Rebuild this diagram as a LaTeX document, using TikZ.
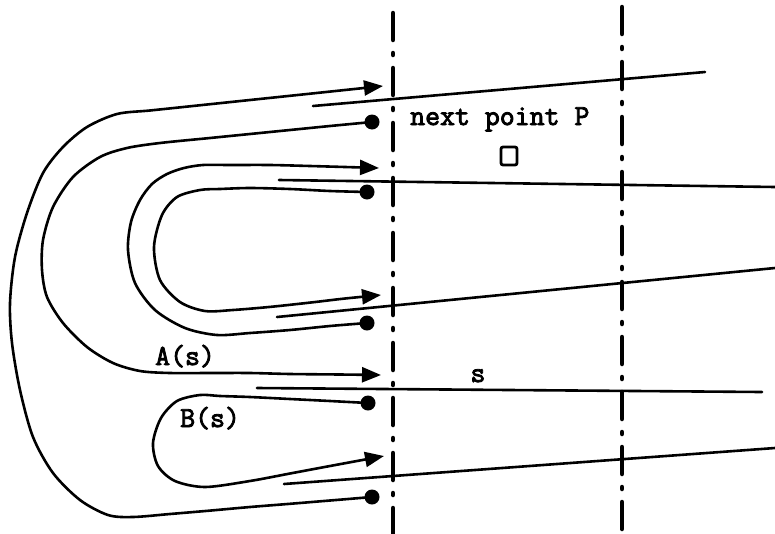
\documentclass[tikz,border=0pt]{standalone}
\usepackage{fontspec}
\newfontfamily\twfont[FakeBold=3]{Latin Modern Mono}
\usetikzlibrary{arrows.meta}
\begin{document}
\begin{tikzpicture}[x=1pt,y=-1pt,
  curve/.style={line width=2.6pt, line join=round, line cap=round},
  tip/.style={-{Triangle[length=19pt,width=15pt]}},
  ray/.style={line width=2.6pt, line cap=round},
  axis/.style={line width=4.5pt, line cap=round, dash pattern=on 27pt off 13pt on 2pt off 13pt},
  lab/.style={font=\fontsize{29}{29}\selectfont\twfont, inner sep=0pt},
  dotmark/.style={fill, circle, minimum size=15pt, inner sep=0pt}]
\useasboundingbox (0,0) rectangle (775,533);

% dash-dot section lines
\coordinate (v1t) at (393,13);  \coordinate (v1b) at (393,545);
\coordinate (v2t) at (622,7);   \coordinate (v2b) at (622,545);
\draw[axis] (v1t) -- (v1b);
\draw[axis] (v2t) -- (v2b);

% end dots
\node[dotmark] (d1) at (372,497) {};
\node[dotmark] (d2) at (372,122) {};
\node[dotmark] (d3) at (367,323) {};
\node[dotmark] (d4) at (367,192) {};
\node[dotmark] (d5) at (368,403) {};

% arrow tips
\coordinate (a1) at (383,86);
\coordinate (a2) at (381,375);
\coordinate (a3) at (379,168);
\coordinate (a4) at (381,295);
\coordinate (a5) at (384,456);

% outer curve
\draw[curve,tip] plot[smooth,tension=0.5] coordinates {(d1.center) (330,500.5) (290,503.8) (250,507) (210,510.6) (170,514) (133,517) (108,515) (80,500) (53,473) (33,437) (20,390) (12,343) (10,303) (15,257) (27,213) (43,173) (63,147) (87,127) (117,114) (150,110.5) (190,106.3) (230,102.1) (270,97.9) (310,93.7) (345,90)  (a1)};
% second curve, A(s)
\draw[curve,tip] plot[smooth,tension=0.5] coordinates {(d2.center) (330,126) (290,130) (250,134) (210,138) (160,143) (127,148) (100,157) (73,177) (53,207) (43,240) (42,270) (47,297) (63,323) (87,347) (113,363) (140,371) (170,373) (210,373) (250,373) (290,374) (340,374.5) (a2)};
% third curve
\draw[curve,tip] plot[smooth,tension=0.5] coordinates {(d3.center) (330,326) (290,330) (250,333) (217,335) (185,328) (155,310) (135,283) (128,250) (131,222) (140,200) (152,184) (167,174) (184,168) (203,165) (230,165) (270,165) (310,166) (345,167) (a3)};
% inner curve
\draw[curve,tip] plot[smooth,tension=0.5] coordinates {(d4.center) (330,191) (290,189) (250,188) (220,189) (200,190) (177,197) (162,215) (154,247) (160,280) (180,302) (205,311) (233,310) (270,306.9) (310,302.6) (345,298.5) (a4)};
% B(s) curve
\draw[curve,tip] plot[smooth,tension=0.5] coordinates {(d5.center) (330,401) (290,399) (250,397) (220,396) (200,395) (177,401) (161,418) (153,443) (158,466) (175,481) (205,487) (250,481) (290,473.5) (330,466) (a5)};

% straight rays
\coordinate (r1s) at (313,106); \coordinate (r1e) at (705,72);
\coordinate (r2s) at (279,180); \coordinate (r2e) at (775,187);
\coordinate (r3s) at (277,317); \coordinate (r3e) at (775,268);
\coordinate (r4s) at (257,388); \coordinate (r4e) at (762,392);
\coordinate (r5s) at (284,484); \coordinate (r5e) at (775,448);
\draw[ray] (r1s) -- (r1e);
\draw[ray] (r2s) -- (r2e);
\draw[ray] (r3s) -- (r3e);
\draw[ray] (r4s) -- (r4e);
\draw[ray] (r5s) -- (r5e);

% labels
\node[lab, anchor=base west] (np) at (410,125) {next point P};
\node[draw, line width=2.8pt, rounded corners=2pt, minimum width=16pt, minimum height=18pt, inner sep=0pt] (P) at (509,156) {};
\node[lab, anchor=base] (s) at (478,382) {s};
\node[lab, anchor=base west] (A) at (155,365) {A(s)};
\node[lab, anchor=base west] (B) at (180,427) {B(s)};
\end{tikzpicture}
\end{document}
